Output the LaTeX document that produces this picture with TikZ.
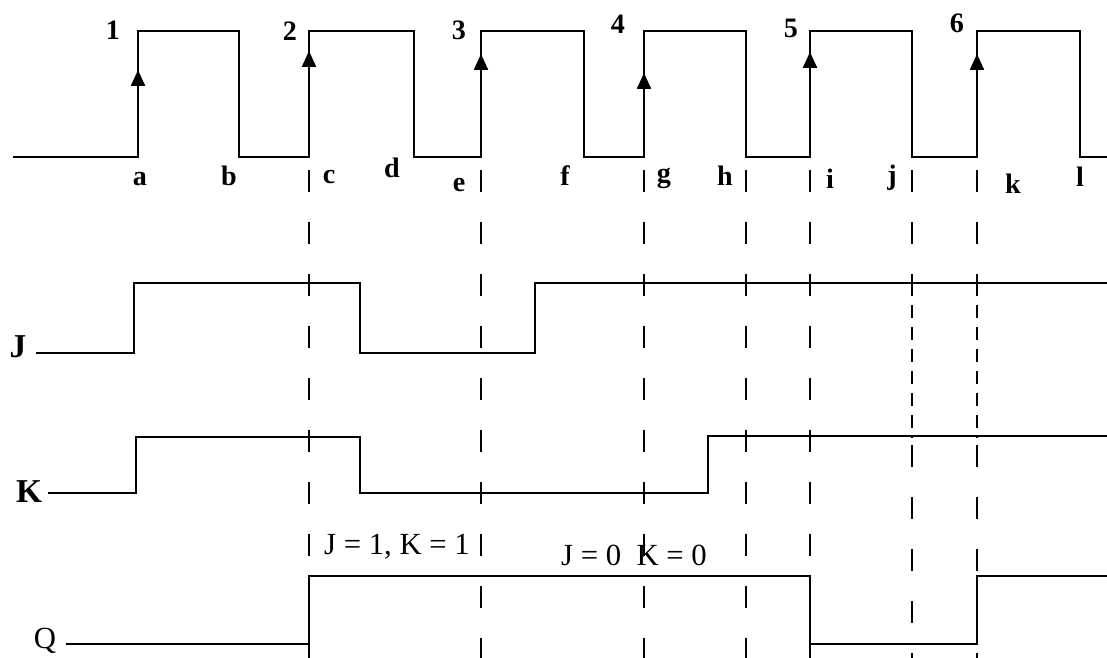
\documentclass[tikz,border=0pt]{standalone}
\usepackage{fontspec}
\setmainfont{Liberation Serif}
\usetikzlibrary{arrows.meta}

\begin{document}
\begin{tikzpicture}[x=0.02cm,y=-0.02cm,>=Triangle,
  wave/.style={line width=0.9pt,line join=miter},
  guide/.style={line width=0.8pt,dash pattern=on 0.44cm off 0.6cm},
  fineguide/.style={line width=0.8pt,dash pattern=on 0.26cm off 0.18cm},
  edgelbl/.style={font=\fontsize{16}{18}\selectfont\bfseries},
  siglbl/.style={font=\fontsize{19}{21}\selectfont\bfseries},
  note/.style={font=\fontsize{17.5}{20}\selectfont}]
  \useasboundingbox (0,0) rectangle (1107,658);
  % clock
  \draw[wave] (13,157) foreach \r/\f in {138/239,309/414,481/584,644/746,810/912,977/1080}
    { -- (\r,157) -- (\r,31) -- (\f,31) -- (\f,157) } -- (1107,157);
  % rising edge arrows
  \foreach \r/\t in {138/70,309/51,481/54,644/73,810/52,977/54}
    \draw[wave,-{Triangle[length=9pt,width=8pt]}] (\r,157) -- (\r,\t);
  % edge numbers and instants
  \foreach \n/\x/\y in {1/113/30,2/290/31,3/459/30,4/618/24,5/791/28,6/957/23}
    \node[edgelbl] (num\n) at (\x,\y) {\n};
  \foreach \l/\x/\y in {a/140/179,b/229/176,c/329/177,d/392/168,e/459/185,f/565/176,
                        g/664/178,h/725/176,i/830/179,j/892/178,k/1013/184,l/1080/177}
    \node[edgelbl] (lbl-\l) at (\x,\y) {\l};
  % guide lines
  \foreach \x in {309,481,644,746,810}
    \draw[guide] (\x,170) -- (\x,658);
  \foreach \x in {912,977} {
    \draw[guide] (\x,170) -- (\x,283);
    \draw[fineguide] (\x,283) -- (\x,437);
    \draw[guide] (\x,445) -- (\x,658);
  }
  % J
  \node[siglbl] (J) at (18,347) {J};
  \draw[wave] (36,353) -- (134,353) -- (134,283) -- (360,283) -- (360,353)
    -- (535,353) -- (535,283) -- (1107,283);
  % K
  \node[siglbl] (K) at (29,492) {K};
  \draw[wave] (48,493) -- (136,493) -- (136,437) -- (360,437) -- (360,493)
    -- (708,493) -- (708,436) -- (1107,436);
  % Q
  \node[note] (Q) at (45,641) {Q};
  \draw[wave] (66,644) -- (309,644) -- (309,576) -- (810,576) -- (810,644)
    -- (977,644) -- (977,576) -- (1107,576);
  \node[note] (jk11) at (397,547) {J = 1, K = 1};
  \node[note] (jk00) at (634,555) {J = 0\enspace K = 0};
\end{tikzpicture}
\end{document}
